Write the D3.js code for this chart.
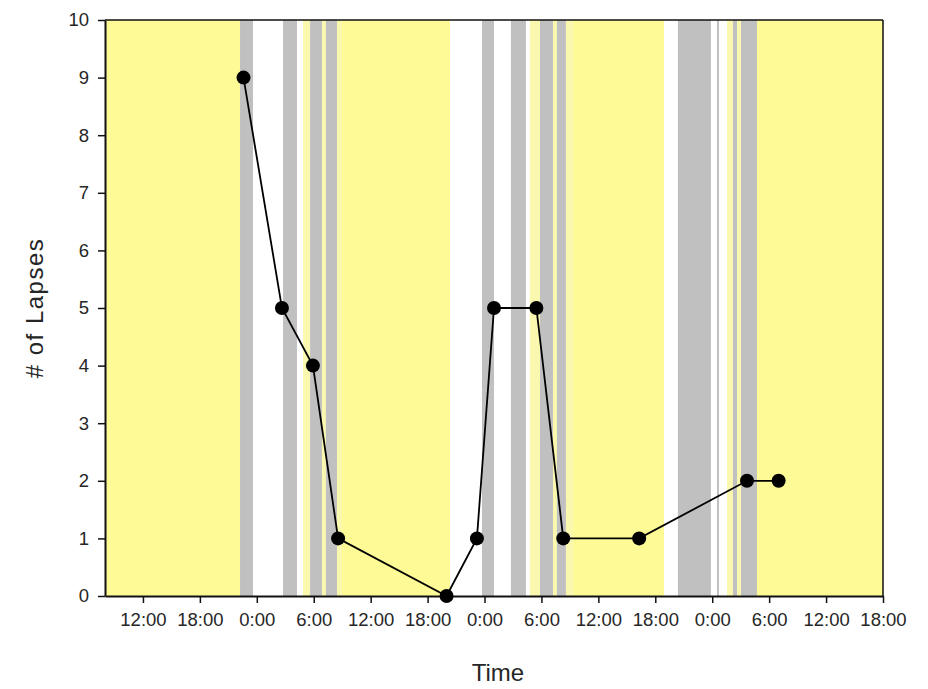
<!DOCTYPE html>
<html>
<head>
<meta charset="utf-8">
<script src="https://cdn.jsdelivr.net/npm/d3@7"></script>
<style>
  html, body { margin: 0; padding: 0; background: #fff; }
  svg { display: block; font-family: "Liberation Sans", Arial, sans-serif; }
</style>
</head>
<body>
<svg id="chart" width="928" height="689"></svg>
<script>
// ---- data ----
const domainStart = "2000-01-01 08:00";
const domainEnd = "2000-01-04 18:00";

// background bands (time periods)
const bandStart = [
  "2000-01-01 08:00", "2000-01-01 22:14", "2000-01-01 23:36", "2000-01-02 02:46", "2000-01-02 04:14",
  "2000-01-02 04:52", "2000-01-02 05:37", "2000-01-02 06:52", "2000-01-02 07:17", "2000-01-02 08:27",
  "2000-01-02 08:59", "2000-01-02 20:22", "2000-01-02 23:44", "2000-01-03 01:00", "2000-01-03 02:47",
  "2000-01-03 04:22", "2000-01-03 04:47", "2000-01-03 05:51", "2000-01-03 07:13", "2000-01-03 07:38",
  "2000-01-03 08:35", "2000-01-03 09:20", "2000-01-03 18:55", "2000-01-03 20:23", "2000-01-03 23:52",
  "2000-01-04 00:30", "2000-01-04 00:43", "2000-01-04 01:34", "2000-01-04 02:11", "2000-01-04 02:37",
  "2000-01-04 03:02", "2000-01-04 04:43"
];
const bandEnd = [
  "2000-01-01 22:14", "2000-01-01 23:36", "2000-01-02 02:46", "2000-01-02 04:14", "2000-01-02 04:52",
  "2000-01-02 05:37", "2000-01-02 06:52", "2000-01-02 07:17", "2000-01-02 08:27", "2000-01-02 08:59",
  "2000-01-02 20:22", "2000-01-02 23:44", "2000-01-03 01:00", "2000-01-03 02:47", "2000-01-03 04:22",
  "2000-01-03 04:47", "2000-01-03 05:51", "2000-01-03 07:13", "2000-01-03 07:38", "2000-01-03 08:35",
  "2000-01-03 09:20", "2000-01-03 18:55", "2000-01-03 20:23", "2000-01-03 23:52", "2000-01-04 00:30",
  "2000-01-04 00:43", "2000-01-04 01:34", "2000-01-04 02:11", "2000-01-04 02:37", "2000-01-04 03:02",
  "2000-01-04 04:43", "2000-01-04 18:00"
];
const bandType = [
  "yellow", "gray", "white", "gray", "white",
  "pale", "gray", "pale", "gray", "pale",
  "yellow", "white", "gray", "white", "gray",
  "white", "pale", "gray", "pale", "gray",
  "pale", "yellow", "white", "gray", "white",
  "gray", "white", "pale", "gray", "pale",
  "gray", "yellow"
];

// lapse observations
const obsTime = [
  "2000-01-01 22:36", "2000-01-02 02:39", "2000-01-02 05:55", "2000-01-02 08:34",
  "2000-01-02 20:00", "2000-01-02 23:12", "2000-01-03 01:00", "2000-01-03 05:28",
  "2000-01-03 08:18", "2000-01-03 16:18", "2000-01-04 03:40", "2000-01-04 07:00"
];
const lapses = [9, 5, 4, 1, 0, 1, 5, 5, 1, 1, 2, 2];

const yTicks = [0, 1, 2, 3, 4, 5, 6, 7, 8, 9, 10];
const xTickTimes = [
  "2000-01-01 12:00", "2000-01-01 18:00", "2000-01-02 00:00", "2000-01-02 06:00",
  "2000-01-02 12:00", "2000-01-02 18:00", "2000-01-03 00:00", "2000-01-03 06:00",
  "2000-01-03 12:00", "2000-01-03 18:00", "2000-01-04 00:00", "2000-01-04 06:00",
  "2000-01-04 12:00", "2000-01-04 18:00"
];

// ---- drawing ----
const parse = d3.timeParse("%Y-%m-%d %H:%M");
const colors = { yellow: "#fefb96", pale: "#f9f8ae", gray: "#c0c0c0", white: "#ffffff" };

const margin = { left: 105, right: 45, top: 20, bottom: 93 };
const W = 928, H = 689;
const svg = d3.select("#chart");

const x = d3.scaleTime()
  .domain([parse(domainStart), parse(domainEnd)])
  .range([margin.left, W - margin.right]);
const y = d3.scaleLinear()
  .domain([0, 10])
  .range([H - margin.bottom, margin.top]);

const bands = bandStart.map((s, i) => ({ s: parse(s), e: parse(bandEnd[i]), t: bandType[i] }));
svg.append("g").selectAll("rect").data(bands).join("rect")
  .attr("x", d => x(d.s))
  .attr("width", d => x(d.e) - x(d.s))
  .attr("y", y(10))
  .attr("height", y(0) - y(10))
  .attr("fill", d => colors[d.t]);

// frame top & right
svg.append("line").attr("x1", x.range()[0]).attr("x2", x.range()[1])
  .attr("y1", y(10)).attr("y2", y(10)).attr("stroke", "#111").attr("stroke-width", 1.5);
svg.append("line").attr("x1", x.range()[1]).attr("x2", x.range()[1])
  .attr("y1", y(10)).attr("y2", y(0)).attr("stroke", "#111").attr("stroke-width", 1.5);

// axes
const xAxis = d3.axisBottom(x)
  .tickValues(xTickTimes.map(parse))
  .tickFormat(d3.timeFormat("%-H:%M"))
  .tickSize(7).tickPadding(10).tickSizeOuter(0);
const gx = svg.append("g").attr("transform", `translate(0,${y(0)})`).call(xAxis);
gx.select(".domain").attr("stroke", "#111").attr("stroke-width", 2);
gx.selectAll(".tick line").attr("stroke", "#111").attr("stroke-width", 1.5);
gx.selectAll(".tick text").attr("font-size", 18.5).attr("fill", "#262626")
  .attr("font-family", "'Liberation Sans', Arial, sans-serif");

const yAxis = d3.axisLeft(y)
  .tickValues(yTicks)
  .tickFormat(d3.format("d"))
  .tickSize(7).tickPadding(9).tickSizeOuter(0);
const gy = svg.append("g").attr("transform", `translate(${x.range()[0]},0)`).call(yAxis);
gy.select(".domain").attr("stroke", "#111").attr("stroke-width", 2);
gy.selectAll(".tick line").attr("stroke", "#111").attr("stroke-width", 1.5);
gy.selectAll(".tick text").attr("font-size", 18.5).attr("fill", "#262626")
  .attr("font-family", "'Liberation Sans', Arial, sans-serif");

// line and markers
const pts = obsTime.map((t, i) => ({ t: parse(t), v: lapses[i] }));
svg.append("path").datum(pts)
  .attr("fill", "none").attr("stroke", "#000").attr("stroke-width", 1.8)
  .attr("d", d3.line().x(d => x(d.t)).y(d => y(d.v)));
svg.append("g").selectAll("circle").data(pts).join("circle")
  .attr("cx", d => x(d.t)).attr("cy", d => y(d.v)).attr("r", 7).attr("fill", "#000");

// titles
svg.append("text").attr("x", 498).attr("y", 681)
  .attr("text-anchor", "middle").attr("font-size", 24).attr("fill", "#262626").text("Time");
svg.append("text")
  .attr("transform", `translate(43,${(y(0) + y(10)) / 2}) rotate(-90)`)
  .attr("text-anchor", "middle").attr("font-size", 24).attr("letter-spacing", 1.5)
  .attr("fill", "#262626").text("# of Lapses");
</script>
</body>
</html>
